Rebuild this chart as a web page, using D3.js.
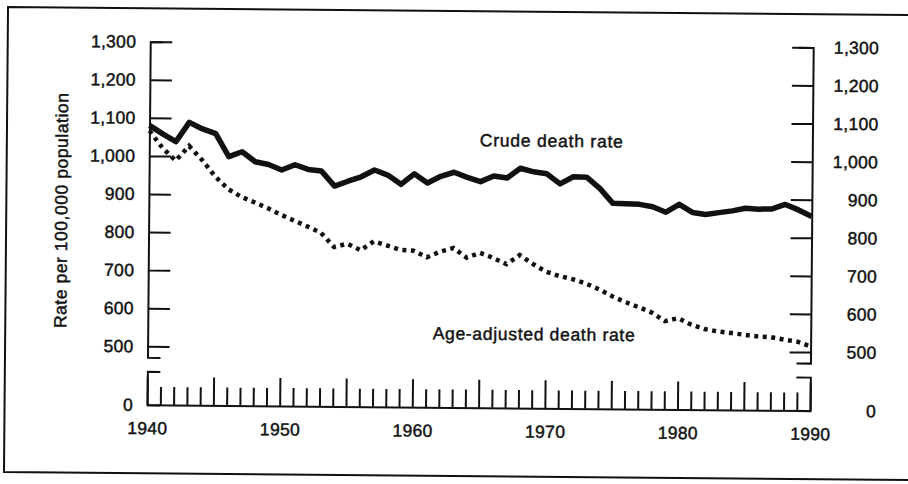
<!DOCTYPE html>
<html>
<head>
<meta charset="utf-8">
<script src="https://cdn.jsdelivr.net/npm/d3@7"></script>
<style>
  html, body { margin: 0; padding: 0; background: #fff; }
  svg { display: block; }
  text {
    font-family: "Liberation Sans", Arial, Helvetica, sans-serif;
    fill: #111;
    stroke: #111;
    stroke-width: 0.45px;
  }
</style>
</head>
<body>
<svg id="chart" width="908" height="484"></svg>
<script>
// Data (rate per 100,000 population)
const YEARS = [
  1940, 1941, 1942, 1943, 1944, 1945, 1946, 1947, 1948, 1949,
  1950, 1951, 1952, 1953, 1954, 1955, 1956, 1957, 1958, 1959,
  1960, 1961, 1962, 1963, 1964, 1965, 1966, 1967, 1968, 1969,
  1970, 1971, 1972, 1973, 1974, 1975, 1976, 1977, 1978, 1979,
  1980, 1981, 1982, 1983, 1984, 1985, 1986, 1987, 1988, 1989, 1990,
];

const CRUDE = [
  1080, 1058, 1038, 1089, 1072, 1060, 1000, 1013, 987, 980,
  966, 980, 968, 964, 925, 938, 950, 968, 955, 931,
  959, 935, 953, 964, 951, 940, 955, 950, 976, 967,
  962, 936, 955, 954, 925, 886, 885, 884, 878, 864,
  885, 864, 859, 864, 869, 876, 874, 875, 887, 873, 856,
];

const AGE_ADJUSTED = [
  1066, 1021, 988, 1027, 990, 947, 914, 894, 880, 865,
  848, 833, 818, 802, 765, 774, 757, 781, 770, 759,
  757, 740, 755, 765, 740, 753, 740, 724, 748, 725,
  705, 694, 686, 675, 660, 642, 627, 614, 600, 578,
  586, 569, 558, 552, 548, 544, 540, 538, 532, 527, 515,
];

const Y_TICKS = [500, 600, 700, 800, 900, 1000, 1100, 1200, 1300];
const X_LABELS = [1940, 1950, 1960, 1970, 1980, 1990];
const Y_TITLE = "Rate per 100,000 population";
const CRUDE_LABEL = "Crude death rate";
const AGE_LABEL = "Age-adjusted death rate";

const INK = "#111";
const FONT_SIZE = 17.5;

const svg = d3.select("#chart");
// the scanned figure sits slightly rotated on the page
const g = svg.append("g").attr("transform", "rotate(0.5, 454, 242)");

// frame (open on the right)
g.append("path")
  .attr("d", "M930,11H6V476H930")
  .attr("fill", "none")
  .attr("stroke", INK)
  .attr("stroke-width", 2);

// scales: upper part of a broken y axis, plus a short stub for zero
const x = d3.scaleLinear().domain([1940, 1990]).range([148.5, 811.5]);
const y = d3.scaleLinear().domain([471, 1300]).range([360, 44.3]);
const yLow = d3.scaleLinear().domain([0, 1]).range([407.5, 374]);

function styleAxis(sel) {
  sel.attr("font-size", FONT_SIZE).attr("font-family", null);
  sel.select(".domain").attr("stroke", INK).attr("stroke-width", 2);
  sel.selectAll(".tick line").attr("stroke", INK).attr("stroke-width", 2);
  sel.selectAll(".tick text").attr("fill", INK).attr("letter-spacing", 0.3);
}

// left axis
g.append("g")
  .attr("transform", `translate(${x(1940)},0)`)
  .call(d3.axisLeft(y).tickValues(Y_TICKS).tickFormat(d3.format(","))
    .tickSize(-22).tickSizeOuter(-13).tickPadding(14))
  .call(styleAxis);

g.append("g")
  .attr("transform", `translate(${x(1940)},0)`)
  .call(d3.axisLeft(yLow).tickValues([0]).tickFormat(d3.format("d"))
    .tickSize(0).tickSizeOuter(-13).tickPadding(14))
  .call(styleAxis);

// right axis (labels right-aligned)
const rightUpper = g.append("g")
  .attr("transform", `translate(${x(1990)},0)`)
  .call(d3.axisRight(y).tickValues(Y_TICKS).tickFormat(d3.format(","))
    .tickSize(-21).tickSizeOuter(-14))
  .call(styleAxis);
rightUpper.selectAll(".tick text").attr("text-anchor", "end").attr("x", 66);

const rightLower = g.append("g")
  .attr("transform", `translate(${x(1990)},0)`)
  .call(d3.axisRight(yLow).tickValues([0]).tickFormat(d3.format("d"))
    .tickSize(0).tickSizeOuter(-14))
  .call(styleAxis);
rightLower.selectAll(".tick text").attr("text-anchor", "end").attr("x", 66);

// bottom axis: a tick every year, longer every five years
const xAxis = g.append("g")
  .attr("transform", `translate(0,${yLow(0)})`)
  .call(d3.axisBottom(x).tickValues(YEARS)
    .tickFormat(d => X_LABELS.includes(d) ? String(d) : "")
    .tickSize(-18).tickSizeOuter(0).tickPadding(17))
  .call(styleAxis);
xAxis.selectAll(".tick line").filter(d => d % 5 === 0).attr("y2", -28);

// lines
const line = d3.line()
  .x((d, i) => x(YEARS[i]))
  .y(d => y(d));

g.append("path")
  .datum(AGE_ADJUSTED)
  .attr("d", line)
  .attr("fill", "none")
  .attr("stroke", INK)
  .attr("stroke-width", 4.5)
  .attr("stroke-dasharray", "4,4.5");

g.append("path")
  .datum(CRUDE)
  .attr("d", line)
  .attr("fill", "none")
  .attr("stroke", INK)
  .attr("stroke-width", 5.5)
  .attr("stroke-linejoin", "round");

// labels
g.append("text")
  .attr("x", 479).attr("y", 146)
  .attr("font-size", FONT_SIZE)
  .attr("textLength", 143).attr("lengthAdjust", "spacing")
  .text(CRUDE_LABEL);

g.append("text")
  .attr("x", 433.5).attr("y", 339.5)
  .attr("font-size", FONT_SIZE)
  .attr("textLength", 202).attr("lengthAdjust", "spacing")
  .text(AGE_LABEL);

g.append("text")
  .attr("transform", "translate(67,214) rotate(-90)")
  .attr("text-anchor", "middle")
  .attr("font-size", FONT_SIZE)
  .attr("textLength", 235).attr("lengthAdjust", "spacing")
  .text(Y_TITLE);
</script>
</body>
</html>
